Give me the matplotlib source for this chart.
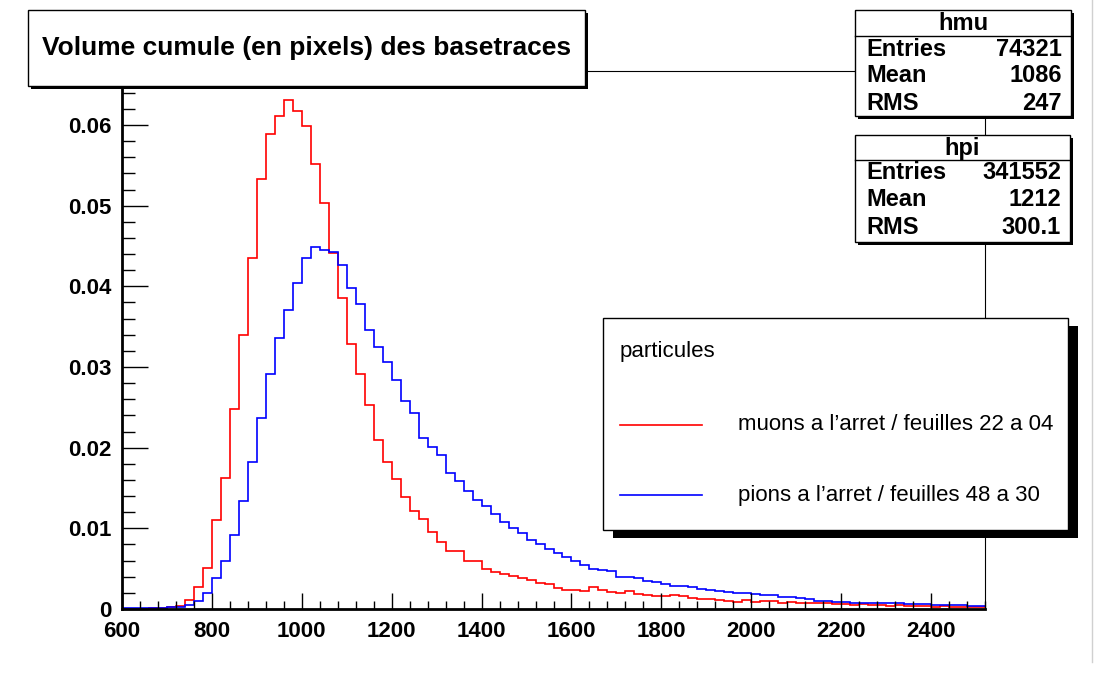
import numpy as np
import matplotlib
matplotlib.use('Agg')
import matplotlib.pyplot as plt
from matplotlib.patches import Rectangle
from matplotlib.lines import Line2D
from matplotlib.ticker import MultipleLocator, FixedLocator, FixedFormatter

# ---------------- data ----------------
x_min, x_max, bin_width = 600, 2520, 20

muon_values = [
    0.0000, 0.0000, 0.0000, 0.0001, 0.0001, 0.0002, 0.0004, 0.0011, 0.0027, 0.0051,
    0.0110, 0.0163, 0.0248, 0.0340, 0.0435, 0.0533, 0.0589, 0.0611, 0.0631, 0.0618,
    0.0599, 0.0552, 0.0503, 0.0441, 0.0385, 0.0328, 0.0291, 0.0253, 0.0209, 0.0182,
    0.0161, 0.0139, 0.0121, 0.0111, 0.0096, 0.0083, 0.0072, 0.0072, 0.0060, 0.0059,
    0.0049, 0.0046, 0.0044, 0.0041, 0.0039, 0.0036, 0.0032, 0.0031, 0.0026, 0.0023,
    0.0024, 0.0022, 0.0027, 0.0024, 0.0021, 0.0020, 0.0022, 0.0019, 0.0017, 0.0016,
    0.0016, 0.0017, 0.0016, 0.0014, 0.0013, 0.0013, 0.0011, 0.0010, 0.0009, 0.0011,
    0.0009, 0.0010, 0.0010, 0.0008, 0.0009, 0.0007, 0.0008, 0.0007, 0.0007, 0.0006,
    0.0006, 0.0005, 0.0006, 0.0005, 0.0005, 0.0004, 0.0005, 0.0004, 0.0004, 0.0004,
    0.0003, 0.0004, 0.0003, 0.0003, 0.0003, 0.0002,
]

pion_values = [
    0.0001, 0.0001, 0.0001, 0.0001, 0.0001, 0.0002, 0.0003, 0.0005, 0.0010, 0.0020,
    0.0038, 0.0059, 0.0092, 0.0134, 0.0182, 0.0237, 0.0291, 0.0336, 0.0371, 0.0404,
    0.0435, 0.0449, 0.0445, 0.0443, 0.0426, 0.0398, 0.0378, 0.0346, 0.0325, 0.0306,
    0.0284, 0.0258, 0.0243, 0.0212, 0.0201, 0.0191, 0.0168, 0.0159, 0.0146, 0.0135,
    0.0128, 0.0118, 0.0108, 0.0100, 0.0094, 0.0085, 0.0080, 0.0075, 0.0070, 0.0064,
    0.0060, 0.0055, 0.0050, 0.0048, 0.0047, 0.0040, 0.0040, 0.0039, 0.0035, 0.0034,
    0.0031, 0.0028, 0.0028, 0.0027, 0.0025, 0.0024, 0.0022, 0.0021, 0.0020, 0.0020,
    0.0019, 0.0017, 0.0017, 0.0015, 0.0015, 0.0014, 0.0012, 0.0010, 0.0010, 0.0009,
    0.0009, 0.0008, 0.0008, 0.0008, 0.0007, 0.0007, 0.0007, 0.0006, 0.0006, 0.0006,
    0.0005, 0.0005, 0.0005, 0.0005, 0.0004, 0.0004,
]

series_labels = ["muons a l\u2019arret / feuilles 22 a 04",
                 "pions a l\u2019arret / feuilles 48 a 30"]
series_colors = ["#ff0000", "#0000ff"]
legend_header = "particules"
title_text = "Volume cumule (en pixels) des basetraces"

x_ticks = [600, 800, 1000, 1200, 1400, 1600, 1800, 2000, 2200, 2400]
x_tick_labels = ["600", "800", "1000", "1200", "1400", "1600", "1800", "2000", "2200", "2400"]
y_ticks = [0, 0.01, 0.02, 0.03, 0.04, 0.05, 0.06]
y_tick_labels = ["0", "0.01", "0.02", "0.03", "0.04", "0.05", "0.06"]
y_max = 0.0667

stats_names = ["hmu", "hpi"]
stats_entries = ["74321", "341552"]
stats_means = ["1086", "1212"]
stats_rms = ["247", "300.1"]

# ---------------- figure ----------------
W, H = 1097, 675
DPI = 100
fig = plt.figure(figsize=(W / DPI, H / DPI), dpi=DPI)
fig.patch.set_facecolor("white")

FONT = "Liberation Sans"

def fx(px):
    return px / W

def fy(py):
    return 1 - py / H

def box(x0, y0, x1, y1, lw=1.0, shadow=3):
    if shadow:
        fig.add_artist(Rectangle((fx(x0 + shadow), fy(y1 + shadow)), (x1 - x0) / W, (y1 - y0) / H,
                                 transform=fig.transFigure, facecolor="black",
                                 edgecolor="black", lw=0, zorder=5))
    fig.add_artist(Rectangle((fx(x0), fy(y1)), (x1 - x0) / W, (y1 - y0) / H,
                             transform=fig.transFigure, facecolor="white",
                             edgecolor="black", lw=lw, zorder=6))

ax_left, ax_right, ax_top, ax_bottom = 122, 985, 71, 609
ax = fig.add_axes([fx(ax_left), fy(ax_bottom), (ax_right - ax_left) / W, (ax_bottom - ax_top) / H])
ax.set_zorder(0)

edges = np.arange(x_min, x_max + bin_width, bin_width)
ax.stairs(muon_values, edges, color=series_colors[0], lw=1.2, baseline=None)
ax.stairs(pion_values, edges, color=series_colors[1], lw=1.2, baseline=None)

ax.set_xlim(x_min, x_max)
ax.set_ylim(0, y_max)

for s in ["left", "bottom"]:
    ax.spines[s].set_linewidth(2.0)
for s in ["top", "right"]:
    ax.spines[s].set_linewidth(0.8)

ax.xaxis.set_major_locator(FixedLocator(x_ticks))
ax.xaxis.set_major_formatter(FixedFormatter(x_tick_labels))
ax.xaxis.set_minor_locator(MultipleLocator(40))
ax.yaxis.set_major_locator(FixedLocator(y_ticks))
ax.yaxis.set_major_formatter(FixedFormatter(y_tick_labels))
ax.yaxis.set_minor_locator(MultipleLocator(0.002))

ax.tick_params(axis="x", which="major", direction="in", length=11.5, width=1.0, pad=8.5)
ax.tick_params(axis="x", which="minor", direction="in", length=5.8, width=1.0)
ax.tick_params(axis="y", which="major", direction="in", length=18.7, width=1.0, pad=7.5)
ax.tick_params(axis="y", which="minor", direction="in", length=9.4, width=1.0)
for lab in ax.get_xticklabels() + ax.get_yticklabels():
    lab.set_fontfamily(FONT)
    lab.set_fontweight("bold")
    lab.set_fontsize(16)

# ---------------- title box ----------------
box(28, 10, 585, 86, lw=1.0, shadow=3)
fig.text(fx((28 + 585) / 2), fy(48), title_text, ha="center", va="center",
         fontfamily=FONT, fontweight="bold", fontsize=19, zorder=7)

# ---------------- stats boxes ----------------
stat_boxes = [(855, 10, 1071, 116, 36), (855, 135, 1070, 242, 160)]
for k, (x0, y0, x1, y1, sep) in enumerate(stat_boxes):
    box(x0, y0, x1, y1, lw=1.0, shadow=3)
    fig.add_artist(Line2D([fx(x0), fx(x1)], [fy(sep), fy(sep)], transform=fig.transFigure,
                          color="black", lw=1.0, zorder=7))
    fig.text(fx((x0 + x1) / 2), fy((y0 + sep) / 2 + 1), stats_names[k], ha="center", va="center",
             fontfamily=FONT, fontweight="bold", fontsize=17, zorder=8)
    rows = [("Entries", stats_entries[k]), ("Mean", stats_means[k]), ("RMS", stats_rms[k])]
    for r, (name, val) in enumerate(rows):
        yy = sep + 13 + 27 * r
        fig.text(fx(x0 + 11), fy(yy), name, ha="left", va="center",
                 fontfamily=FONT, fontweight="bold", fontsize=17, zorder=8)
        fig.text(fx(x1 - 9), fy(yy), val, ha="right", va="center",
                 fontfamily=FONT, fontweight="bold", fontsize=17, zorder=8)

# ---------------- legend ----------------
lx0, ly0, lx1, ly1 = 603, 318, 1068, 530
fig.add_artist(Rectangle((fx(lx0 + 10), fy(ly1 + 8)), (lx1 - lx0) / W, (ly1 - ly0) / H,
                         transform=fig.transFigure, facecolor="black", edgecolor="black",
                         lw=0, zorder=5))
fig.add_artist(Rectangle((fx(lx0), fy(ly1)), (lx1 - lx0) / W, (ly1 - ly0) / H,
                         transform=fig.transFigure, facecolor="white", edgecolor="black",
                         lw=1.0, zorder=6))
fig.text(fx(620), fy(352), legend_header, ha="left", va="center",
         fontfamily=FONT, fontsize=16, zorder=8)
for k, (lab, col) in enumerate(zip(series_labels, series_colors)):
    yy = 425 + 70 * k
    fig.add_artist(Line2D([fx(620), fx(702)], [fy(yy), fy(yy)], transform=fig.transFigure,
                          color=col, lw=1.2, zorder=8))
    fig.text(fx(738), fy(yy), lab, ha="left", va="center",
             fontfamily=FONT, fontsize=16, zorder=8)

# canvas border line on the right
fig.add_artist(Line2D([fx(1092), fx(1092)], [fy(0), fy(662)], transform=fig.transFigure,
                      color="#d0d0d0", lw=1.0, zorder=1))

fig.savefig("out.png", dpi=DPI, facecolor="white")
